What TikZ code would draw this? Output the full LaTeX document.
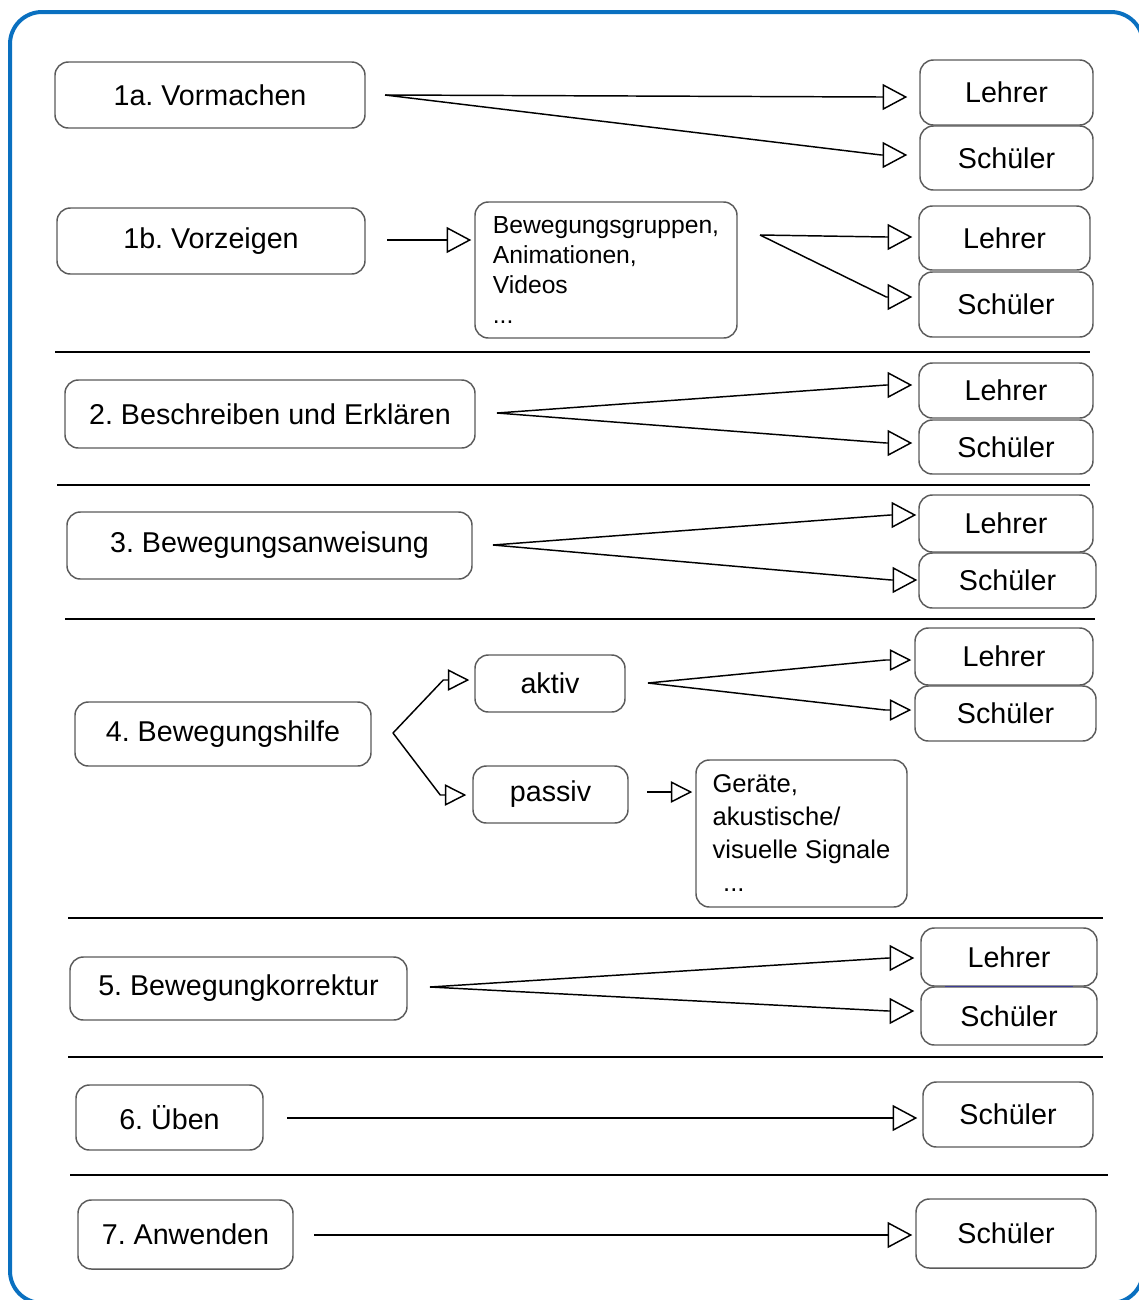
\documentclass[tikz,border=0pt]{standalone}
\usepackage{fontspec}
\setmainfont{Liberation Sans}
\usetikzlibrary{arrows.meta,calc}
\definecolor{frameblue}{RGB}{10,112,192}
\definecolor{boxgray}{RGB}{90,90,90}
\frenchspacing
\tikzset{
  box/.style={draw=boxgray, line width=1.1pt, rounded corners=10pt, fill=white, inner sep=0pt,
    font=\fontsize{21.5}{26}\selectfont},
  con/.style={draw=black, line width=1.1pt, -{Triangle[open,length=18.5pt,width=19.5pt,line width=1.1pt]}},
  consmall/.style={draw=black, line width=1.1pt, -{Triangle[open,length=16pt,width=16pt,line width=1.1pt]}},
  sep/.style={draw=black, line width=1.4pt},
}
% box: name, x1, y1, x2, y2, text
\newcommand\bx[6]{\node[box, minimum width={(#4-#2)*0.75pt}, minimum height={(#5-#3)*0.75pt}] (#1) at ({(#2+#4)/2},{(#3+#5)/2}) {#6};}
% connector: style, start, target node, x offset of tip from west, y offset of tip from centre
\newcommand\conn[5]{\draw[#1] (#2) -- ($(#3.west)+(#4-26,#5)$) -- ($(#3.west)+(#4,#5)$);}
\begin{document}
\begin{tikzpicture}[x=0.75pt,y=-0.75pt]
\useasboundingbox (0,0) rectangle (1139,1300);
\begin{scope}
\clip (0,0) rectangle (1139,1300);
\draw[frameblue, line width=3pt, rounded corners=24pt] (10,12) rectangle (1143,1303);
\end{scope}

% separators
\draw[sep] (55,352) -- (1090,352);
\draw[sep] (57,485) -- (1090,485);
\draw[sep] (65,619) -- (1095,619);
\draw[sep] (68,918) -- (1103,918);
\draw[sep] (68,1057) -- (1103,1057);
\draw[sep] (70,1175) -- (1108,1175);

% row 1a
\bx{v1a}{55}{62}{365}{128}{1a. Vormachen}
\bx{l1a}{920}{60}{1093}{125}{Lehrer}
\bx{s1a}{920}{126}{1093}{190}{Schüler}
\coordinate (c1a) at (385,95);
\conn{con}{c1a}{l1a}{-12}{4.5}
\conn{con}{c1a}{s1a}{-12}{-3}

% row 1b
\bx{v1b}{57}{208}{365}{274}{1b. Vorzeigen}
\node[box, align=left, minimum width={262*0.75pt}, minimum height={136*0.75pt},
  font=\fontsize{18.5}{22.5}\selectfont] (m1b) at (606,270)
  {Bewegungsgruppen,\\Animationen,\\Videos\\...};
\bx{l1b}{919}{206}{1090}{270}{Lehrer}
\bx{s1b}{919}{272}{1093}{337}{Schüler}
\coordinate (c1b) at (387,240);
\coordinate (c1bm) at (760,235);
\conn{con}{c1b}{m1b}{-3}{-30}
\conn{con}{c1bm}{l1b}{-6}{-1}
\conn{con}{c1bm}{s1b}{-6}{-7.5}

% row 2
\bx{v2}{65}{380}{475}{448}{2. Beschreiben und Erklären}
\bx{l2}{919}{363}{1093}{418}{Lehrer}
\bx{s2}{919}{420}{1093}{474}{Schüler}
\coordinate (c2) at (497,413);
\conn{con}{c2}{l2}{-6}{-5.5}
\conn{con}{c2}{s2}{-6}{-4}

% row 3
\bx{v3}{67}{512}{472}{579}{3. Bewegungsanweisung}
\bx{l3}{919}{495}{1093}{552}{Lehrer}
\bx{s3}{919}{553}{1096}{608}{Schüler}
\coordinate (c3) at (493,545);
\conn{con}{c3}{l3}{-2}{-8.5}
\conn{con}{c3}{s3}{-1}{-0.5}

% row 4
\bx{v4}{75}{702}{371}{766}{4. Bewegungshilfe}
\bx{ak}{475}{655}{625}{712}{aktiv}
\bx{pa}{473}{766}{628}{823}{passiv}
\node[box, align=left, minimum width={211*0.75pt}, minimum height={147*0.75pt},
  font=\fontsize{19.2}{24.75}\selectfont] (ger) at (801.5,833.5)
  {Geräte,\\akustische/\\visuelle Signale\\\hspace{8pt}...};
\bx{l4}{915}{628}{1093}{685}{Lehrer}
\bx{s4}{915}{686}{1096}{741}{Schüler}
\coordinate (b4) at (393,733);
\coordinate (c4a) at (648,683);
\coordinate (c4p) at (647,792);
\conn{consmall}{b4}{ak}{-5}{-3.5}
\conn{consmall}{b4}{pa}{-6}{0.5}
\conn{consmall}{c4a}{l4}{-3}{3.5}
\conn{consmall}{c4a}{s4}{-3}{-3.5}
\conn{consmall}{c4p}{ger}{-3}{-41.5}

% row 5
\bx{v5}{70}{957}{407}{1020}{5. Bewegungkorrektur}
\bx{l5}{921}{928}{1097}{986}{Lehrer}
\bx{s5}{921}{987}{1097}{1045}{Schüler}
\draw[color={rgb,255:red,60;green,60;blue,150}, line width=1.4pt] (945,986.5) -- (1073,986.5);
\coordinate (c5) at (430,987);
\conn{con}{c5}{l5}{-6}{1}
\conn{con}{c5}{s5}{-6}{-5}

% row 6
\bx{v6}{76}{1085}{263}{1150}{6. Üben}
\bx{s6}{923}{1082}{1093}{1147}{Schüler}
\coordinate (c6) at (287,1118);
\conn{con}{c6}{s6}{-5}{3.5}

% row 7
\bx{v7}{78}{1200}{293}{1269}{7. Anwenden}
\bx{s7}{916}{1199}{1096}{1268}{Schüler}
\coordinate (c7) at (314,1235);
\conn{con}{c7}{s7}{-3}{1.5}
\end{tikzpicture}
\end{document}
